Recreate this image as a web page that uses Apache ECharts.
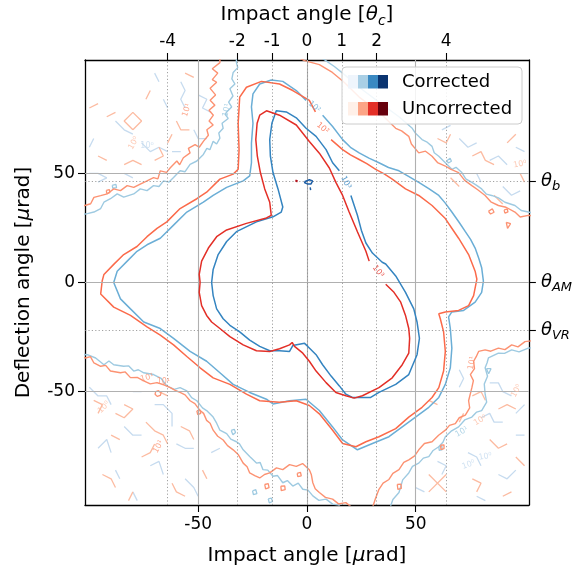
<!DOCTYPE html>
<html>
<head>
<meta charset="utf-8">
<script src="https://cdn.jsdelivr.net/npm/echarts@6/dist/echarts.min.js"></script>
<style>
  html, body { margin: 0; padding: 0; background: #fff; }
  #chart { width: 575px; height: 571px; }
</style>
</head>
<body>
<div id="chart"></div>
<script>
// ---- reference angles [µrad] ----
const thetaC = 16;      // critical channeling angle
const thetaB = 46.5;    // bending angle
const thetaAM = 0;      // amorphous orientation
const thetaVR = -22;    // volume reflection
const axisRange = [-102, 102];

const xTicks = [-50, 0, 50];
const yTicks = [-50, 0, 50];
const topTickMultiples = [-4, -2, -1, 0, 1, 2, 4];

// contour levels (counts)
const levels = [1, 10, 100, 1000];

// ---- contour paths, [impact, deflection] in µrad ----
// level 10^3
const corr3 = [
  [[20.2,39.9],[23.2,30.8],[25.0,24.0],[27.1,18.1],[30.1,13.5],[34.6,9.3],[36.2,8.5],[40.8,3.0],[45.3,-4.5],[49.1,-12.1],[50.6,-18.1],[51.7,-25.6],[50.6,-33.1],[46.8,-42.2],[40.8,-46.7],[33.1,-50.4],[29.3,-52.7],[20.9,-52.7],[17.9,-51.2],[14.9,-47.4],[11.1,-42.9],[7.2,-37.7],[4.2,-33.1],[0.4,-29.3],[-1.1,-27.9],[-6.5,-28.9],[-8.0,-31.6],[-12.6,-31.3],[-17.1,-31.3],[-21.7,-29.3],[-26.3,-26.4],[-30.9,-22.6],[-35.4,-19.6],[-38.5,-16.6],[-41.5,-12.1],[-43.1,-6.0],[-43.8,0],[-43.1,6.0],[-40.8,12.8],[-36.9,18.8],[-32.4,23.3],[-23.2,27.8],[-15.6,30.1],[-11.8,32.3],[-11.1,34.6],[-13.3,42.9],[-15.6,50.4],[-16.8,57.9],[-17.1,65.5],[-16.1,73.0],[-14.1,78.7],[-9.5,78.2],[-4.9,75.5],[-0.4,70.7],[4.2,67.0],[8.8,60.9],[11.8,54.9],[14.9,51.2]]
];
const unc3 = [
  [[36.2,-0.8],[40.0,-4.5],[43.1,-9.0],[45.3,-15.1],[46.8,-21.1],[47.2,-25.6],[46.8,-32.4],[43.8,-37.7],[39.2,-43.7],[33.1,-48.2],[25.5,-51.9],[21.7,-53.0],[17.9,-51.9],[13.3,-50.4],[8.8,-45.9],[4.2,-40.6],[1.1,-36.1],[-1.9,-32.4],[-5.7,-29.3],[-6.8,-27.5],[-8.0,-28.6],[-12.6,-30.4],[-17.1,-31.6],[-23.2,-31.3],[-29.3,-28.6],[-35.4,-24.8],[-40.0,-21.1],[-43.8,-18.1],[-46.1,-15.1],[-48.4,-10.6],[-49.5,-4.5],[-49.1,0.1],[-49.5,3.7],[-48.4,9.8],[-45.3,15.8],[-41.5,21.0],[-36.9,24.1],[-27.8,27.1],[-18.6,29.6],[-16.4,30.8],[-17.1,36.8],[-19.4,42.9],[-21.4,50.4],[-22.8,57.9],[-23.5,65.5],[-22.9,73.0],[-21.7,76.7],[-18.6,78.7],[-12.6,76.7],[-4.9,72.2],[1.1,64.6],[5.7,59.3],[10.3,52.5],[13.3,45.9],[16.4,39.9],[19.4,32.3],[23.2,23.3],[27.1,14.3],[28.6,9.8]]
];
// level 10^2
const corr2 = [
  [[7.2,76.7],[11.8,71.5],[16.4,65.5],[20.0,62.0],[24.0,59.4],[28.5,57.0],[33.1,54.9],[37.5,52.7],[42.3,51.2],[46.5,48.8],[51.4,45.9],[56.0,43.0],[60.6,39.9],[63.5,36.5],[66.6,32.3],[70.0,27.5],[72.8,23.3],[75.2,19.8],[77.3,15.8],[79.0,11.0],[80.3,6.8],[81.1,0.6],[80.3,-4.5],[77.3,-9.0],[72.0,-12.8],[66.6,-13.5],[65.1,-15.8],[65.9,-21.1],[66.6,-30.1],[65.9,-39.1],[63.6,-46.7],[60.6,-52.7],[56.0,-57.2],[49.9,-61.7],[43.8,-66.2],[37.7,-70.7],[30.1,-73.8],[23.2,-76.7],[16.4,-72.2],[11.8,-66.2],[5.7,-58.7],[-0.4,-53.5],[-8.0,-54.2],[-15.6,-55.7],[-18.6,-53.5],[-26.3,-50.4],[-33.9,-46.7],[-40.0,-41.4],[-46.1,-36.1],[-53.7,-31.6],[-61.3,-25.6],[-67.4,-21.1],[-75.0,-18.1],[-81.1,-12.1],[-85.7,-7.5],[-88.8,0],[-87.2,5.2],[-82.6,9.8],[-78.1,14.3],[-73.5,17.3],[-67.4,20.3],[-61.3,26.3],[-55.2,32.3],[-47.6,36.8],[-43.1,39.9],[-36.9,43.6],[-29.3,46.6],[-26.3,48.9],[-25.5,54.9],[-25.5,63.9],[-24.8,73.0],[-25.5,80.5],[-24.8,86.5],[-21.7,91.0],[-16.4,92.8],[-11.1,92.2],[-4.9,88.0],[-0.4,83.5]]
];
const unc2 = [
  [[11.1,65.5],[16.4,60.9],[20.0,58.5],[24.0,56.4],[27.5,54.5],[31.6,51.9],[35.5,49.8],[39.2,47.4],[45.3,42.9],[51.4,39.9],[57.5,35.3],[63.6,29.3],[66.5,25.0],[69.7,20.3],[74.3,12.8],[77.3,5.2],[78.1,1.5],[76.6,-6.0],[74.3,-10.6],[69.7,-12.8],[63.6,-13.5],[60.6,-14.3],[61.3,-16.6],[62.8,-22.6],[63.6,-31.6],[62.8,-40.6],[60.6,-48.2],[57.5,-52.7],[52.9,-57.2],[46.8,-61.7],[40.8,-67.0],[33.1,-70.7],[27.1,-73.0],[22.5,-75.3],[16.4,-73.8],[11.8,-67.7],[5.7,-60.2],[1.1,-56.4],[-4.9,-54.2],[-12.6,-54.9],[-21.7,-54.2],[-27.8,-51.2],[-35.4,-46.7],[-43.1,-43.7],[-49.1,-39.1],[-55.2,-33.9],[-61.3,-28.6],[-67.4,-24.1],[-73.5,-20.3],[-81.1,-15.1],[-88.8,-11.3],[-94.8,-5.3],[-94.1,0.7],[-93.3,3.7],[-88.8,8.3],[-84.2,12.8],[-78.1,16.5],[-73.5,21.0],[-68.9,24.8],[-64.4,27.8],[-58.3,33.9],[-50.6,38.4],[-46.1,41.4],[-40.0,47.4],[-33.9,49.7],[-31.6,51.9],[-31.2,60.9],[-31.6,73.0],[-30.9,85.0],[-27.8,89.5],[-20.9,92.2],[-12.6,91.0],[-6.5,88.0],[1.1,83.5],[3.9,78.2]]
];
// level 10^1 (closes outside the frame)
const corr1 = [
  [[3.4,105.3],[8.0,102.2],[12.6,99.0],[17.1,95.4],[24.0,89.5],[33.1,82.7],[42.3,76.0],[48.4,70.7],[49.9,68.4],[52.9,65.5],[55.0,64.5],[57.5,62.4],[58.5,59.5],[60.6,57.9],[63.6,54.9],[66.6,51.9],[68.5,52.8],[71.2,50.4],[73.0,47.5],[75.8,45.9],[78.0,44.5],[80.3,42.9],[82.5,40.5],[84.9,39.9],[88.0,38.8],[91.0,36.8],[95.6,35.3],[98.5,33.0],[101.7,32.3],[105.3,31.7],
   [105.3,-29.7],[101.7,-30.1],[97.5,-31.8],[94.1,-30.9],[90.8,-32.5],[88.0,-32.4],[83.4,-34.6],[82.8,-36.8],[81.9,-39.1],[83.0,-43.0],[81.5,-46.5],[81.9,-51.2],[82.6,-54.8],[80.3,-58.7],[78.0,-59.4],[75.8,-61.7],[72.5,-63.0],[69.7,-66.2],[66.5,-68.0],[63.6,-70.7],[62.5,-73.2],[60.6,-75.3],[58.0,-77.0],[56.0,-79.8],[53.5,-80.5],[51.4,-82.8],[48.5,-84.3],[46.8,-87.3],[44.0,-90.5],[42.3,-96.3],[39.5,-99.5],[37.7,-104.6],[37.7,-106],
   [17.1,-106],[17.1,-104.6],[14.5,-102.0],[11.8,-101.6],[8.8,-99.3],[5.5,-99.9],[2.7,-97.8],[0.5,-95.2],[-1.9,-94.8],[-4.0,-92.0],[-6.5,-93.3],[-9.0,-90.8],[-11.1,-91.8],[-13.5,-88.5],[-15.6,-88.8],[-18.0,-86.0],[-20.2,-85.8],[-21.5,-82.5],[-23.2,-82.8],[-26.3,-79.8],[-29.3,-76.7],[-31.0,-74.0],[-32.4,-73.0],[-35.0,-71.8],[-36.9,-69.3],[-40.0,-67.7],[-41.5,-64.5],[-43.1,-61.7],[-46.1,-58.7],[-48.0,-57.5],[-50.6,-54.2],[-53.0,-52.8],[-55.2,-49.7],[-58.3,-48.2],[-61.0,-49.0],[-64.4,-47.4],[-67.0,-44.0],[-70.5,-42.2],[-75.0,-41.4],[-77.5,-40.0],[-79.6,-40.6],[-82.0,-38.2],[-84.2,-38.4],[-88.8,-37.7],[-91.0,-36.0],[-93.3,-37.7],[-97.1,-34.6],[-100.9,-33.1],[-104.9,-32.8],
   [-104.9,30.8],[-100.9,31.6],[-97.9,32.3],[-94.8,33.9],[-93.3,36.8],[-90.3,38.4],[-87.2,40.6],[-84.2,39.1],[-79.6,40.6],[-76.6,42.9],[-73.5,42.1],[-70.5,44.4],[-68.0,44.0],[-65.9,46.6],[-63.5,46.0],[-61.3,48.1],[-58.3,51.2],[-56.0,50.8],[-53.7,54.2],[-50.6,55.7],[-47.6,58.7],[-46.0,61.5],[-44.6,60.9],[-43.1,64.7],[-41.5,63.5],[-40.0,66.2],[-40.5,68.5],[-38.5,70.7],[-39.0,73.0],[-36.2,75.2],[-37.5,77.0],[-36.9,78.2],[-34.6,80.5],[-36.0,82.7],[-34.0,85.5],[-35.4,88.8],[-33.1,91.0],[-34.5,93.3],[-33.9,96.3],[-31.8,98.5],[-32.4,100.8],[-32.4,105.3],[3.4,105.3]]
];
const unc1 = [
  [[-8.0,105.3],[-1.1,101.7],[5.7,99.9],[11.7,96.3],[17.1,91.8],[24.0,85.0],[33.1,78.2],[40.8,70.7],[43.5,69.5],[46.8,67.0],[48.0,63.5],[51.4,59.4],[54.5,60.2],[57.5,57.9],[60.0,55.0],[63.6,53.4],[66.0,52.0],[69.7,50.4],[72.5,46.8],[75.8,44.4],[78.5,42.5],[81.9,39.9],[84.5,37.0],[88.0,35.3],[91.5,34.5],[95.6,32.3],[98.0,30.0],[101.7,30.8],[105.3,30.4],
   [105.3,-26.5],[100.2,-27.1],[97.0,-29.5],[94.1,-28.6],[91.0,-30.8],[88.0,-30.1],[84.5,-31.5],[81.9,-30.9],[78.9,-31.6],[77.8,-34.0],[76.6,-36.1],[77.0,-39.5],[75.1,-42.2],[76.5,-45.0],[75.8,-48.2],[74.3,-54.2],[74.8,-57.5],[72.8,-60.8],[70.0,-62.0],[68.2,-64.7],[65.5,-65.5],[63.6,-67.7],[60.5,-70.0],[57.5,-73.0],[54.0,-73.8],[51.4,-76.7],[49.5,-79.5],[46.8,-81.3],[44.5,-82.5],[42.3,-85.8],[39.5,-87.5],[37.7,-90.3],[35.0,-92.0],[33.1,-94.8],[31.5,-99.0],[30.1,-103.3],[30.1,-105],
   [20.9,-105],[20.9,-103.3],[17.9,-100.9],[14.5,-101.5],[11.8,-99.3],[8.5,-98.5],[5.7,-96.3],[3.8,-94.5],[2.7,-91.8],[2.0,-88.0],[1.1,-85.8],[-2.0,-83.0],[-4.9,-84.3],[-8.0,-83.5],[-11.1,-85.8],[-14.0,-85.0],[-17.1,-87.3],[-19.5,-88.0],[-21.7,-89.6],[-24.0,-88.5],[-26.3,-87.3],[-27.5,-84.5],[-29.3,-82.8],[-31.5,-79.0],[-33.9,-76.7],[-36.5,-74.8],[-38.5,-72.2],[-41.0,-70.5],[-43.1,-67.7],[-44.5,-64.5],[-46.1,-63.2],[-47.5,-60.0],[-49.1,-58.7],[-51.5,-55.5],[-53.7,-54.2],[-56.0,-51.5],[-58.3,-50.4],[-60.5,-49.5],[-62.8,-48.2],[-65.5,-47.0],[-68.9,-45.9],[-72.0,-46.5],[-75.0,-45.1],[-78.0,-43.5],[-81.1,-43.6],[-83.5,-41.0],[-85.7,-41.4],[-90.3,-40.6],[-92.5,-38.0],[-94.8,-38.4],[-97.9,-36.9],[-99.5,-34.0],[-101.7,-34.6],[-104.9,-33.7],
   [-104.9,34.4],[-101.7,35.4],[-99.4,36.1],[-97.9,39.0],[-94.8,39.8],[-91.8,40.6],[-88.8,42.9],[-85.7,42.1],[-82.6,44.4],[-79.6,43.6],[-76.6,45.1],[-73.5,46.6],[-70.5,48.1],[-68.5,47.5],[-67.4,51.2],[-64.5,50.5],[-62.8,52.6],[-59.8,55.7],[-58.5,54.0],[-56.8,57.2],[-53.7,59.4],[-54.5,61.5],[-51.4,63.2],[-49.5,62.0],[-47.6,64.7],[-45.3,67.5],[-46.0,70.0],[-43.1,72.2],[-45.0,74.0],[-43.0,76.7],[-45.0,79.0],[-42.3,81.3],[-44.5,83.5],[-42.0,86.0],[-44.5,89.0],[-41.5,91.8],[-43.5,93.0],[-41.0,96.0],[-43.5,98.0],[-40.0,100.8],[-40.0,105.3],[-8.0,105.3]]
];
// small level 10^1 islands along the bands
const corr1Islands = [
  [[-34.8,-67.8],[-33.4,-67.3],[-32.8,-68.8],[-34.0,-69.8],[-34.8,-67.8]],
  [[-17.8,-99.2],[-16.4,-98.8],[-15.8,-100.4],[-17.3,-101.0],[-17.8,-99.2]],
  [[60.6,-75.2],[62.0,-75.0],[62.2,-76.6],[60.8,-77.0],[60.6,-75.2]],
  [[82.5,-39.5],[84.6,-39.5],[83.5,-41.8],[82.5,-39.5]],
  [[64.3,55.8],[65.8,57.0],[66.4,55.6],[65.0,54.8],[64.3,55.8]],
  [[-89.5,44.5],[-87.8,45.0],[-87.5,43.5],[-89.2,43.2],[-89.5,44.5]],
  [[-25.0,-95.5],[-23.5,-95.0],[-23.0,-96.8],[-24.6,-97.2],[-25.0,-95.5]]
];
const unc1Islands = [
  [[-69.5,-50.0],[-68.2,-49.6],[-67.0,-50.5],[-67.4,-51.8],[-68.8,-52.2],[-69.8,-51.2],[-69.5,-50.0]],
  [[-50.6,-58.8],[-49.2,-58.4],[-48.8,-60.0],[-50.2,-60.6],[-50.6,-58.8]],
  [[-19.4,-92.6],[-17.8,-92.2],[-17.4,-94.0],[-19.0,-94.6],[-19.4,-92.6]],
  [[-12.0,-93.4],[-10.2,-93.2],[-10.0,-95.0],[-11.8,-95.4],[-12.0,-93.4]],
  [[41.5,-92.6],[43.2,-92.4],[43.4,-94.4],[41.8,-94.8],[41.5,-92.6]],
  [[61.4,-74.6],[63.0,-74.4],[63.0,-76.2],[61.6,-76.6],[61.4,-74.6]],
  [[83.4,32.6],[85.2,33.8],[86.0,32.2],[84.4,31.4],[83.4,32.6]],
  [[90.6,33.2],[92.0,33.8],[92.4,32.4],[91.0,31.8],[90.6,33.2]],
  [[91.6,27.6],[93.6,27.0],[92.2,24.8],[91.6,27.6]],
  [[-92.2,42.2],[-90.8,42.6],[-90.6,41.2],[-92.0,40.8],[-92.2,42.2]],
  [[-4.5,-87.5],[-3.0,-87.0],[-2.6,-88.6],[-4.2,-89.0],[-4.5,-87.5]]
];
// level 10^0 fragments in the sparse corners
const corr0 = [
  [[-58,92],[-56,88],[-58,84],[-56,80]],
  [[-50,86],[-46,84],[-48,80],[-44,78]],
  [[-62,60],[-58,60]],
  [[-88,74],[-84,70],[-80,68]],
  [[-100,50],[-96,50],[-92,48],[-96,46]],
  [[-76,64],[-72,60],[-68,62],[-64,60]],
  [[-66,84],[-64,80]],
  [[-52,70],[-50,66],[-46,66]],
  [[-84,50],[-80,48]],
  [[-100,62],[-98,66]],
  [[-70,96],[-68,92]],
  [[-100,-48],[-96,-52],[-92,-52],[-90,-56]],
  [[-80,-50],[-76,-50]],
  [[-70,-56],[-66,-56],[-62,-60],[-62,-66]],
  [[-84,-66],[-80,-70],[-76,-70]],
  [[-60,-74],[-56,-76],[-52,-76]],
  [[-96,-76],[-92,-72],[-90,-78]],
  [[-72,-84],[-68,-82],[-66,-88]],
  [[-56,-90],[-52,-94],[-50,-98]],
  [[-80,-96],[-78,-100]],
  [[-44,-78],[-40,-76]],
  [[-88,-86],[-86,-90]],
  [[70,-40],[72,-44],[70,-48]],
  [[84,-46],[88,-46],[90,-50],[94,-52]],
  [[80,-62],[84,-60],[86,-64],[90,-64]],
  [[96,-70],[100,-70]],
  [[60,-82],[64,-84],[62,-88]],
  [[74,-78],[78,-80],[80,-84]],
  [[88,-88],[92,-90],[96,-86]],
  [[50,-94],[54,-96]],
  [[78,-98],[82,-100]],
  [[100,-56],[96,-60]],
  [[70,66],[74,62],[78,64]],
  [[84,56],[88,58],[92,54]],
  [[96,62],[100,60]],
  [[62,70],[66,72]],
  [[90,44],[94,40],[98,42]],
  [[78,50],[80,46]]
];
const unc0 = [
  [[-80,70],[-76,74],[-80,78],[-84,74],[-80,70]],
  [[-92,76],[-88,78]],
  [[-70,56],[-66,58],[-68,62]],
  [[-60,74],[-58,70],[-54,70]],
  [[-74,84],[-72,88]],
  [[-96,58],[-92,56]],
  [[-84,54],[-80,56],[-76,54]],
  [[-56,96],[-52,94]],
  [[-100,80],[-96,82]],
  [[-64,64],[-62,68]],
  [[-98,-54],[-94,-56],[-96,-60]],
  [[-88,-60],[-84,-62],[-80,-58],[-84,-56]],
  [[-74,-64],[-70,-68],[-66,-70],[-64,-74]],
  [[-68,-50],[-64,-52]],
  [[-90,-70],[-86,-72]],
  [[-58,-66],[-54,-68],[-52,-72]],
  [[-76,-80],[-72,-78],[-70,-74]],
  [[-94,-88],[-90,-90],[-88,-94]],
  [[-62,-92],[-60,-96],[-56,-98]],
  [[-48,-86],[-46,-90]],
  [[-82,-100],[-80,-96]],
  [[56,-54],[60,-56]],
  [[76,-52],[80,-50],[82,-54]],
  [[88,-58],[92,-56],[96,-58]],
  [[56,-88],[64,-96]],
  [[64,-88],[56,-96]],
  [[84,-72],[88,-76],[92,-74]],
  [[96,-80],[100,-84]],
  [[76,-90],[80,-92],[78,-96]],
  [[90,-98],[94,-96]],
  [[70,-64],[72,-60]],
  [[60,66],[64,64],[66,68]],
  [[76,58],[80,60],[82,56],[86,54]],
  [[92,64],[96,68]],
  [[66,48],[70,44]],
  [[98,50],[100,46]],
  [[86,40],[90,36]]
];
// isolated high-count spots near the bending angle
const corrSpot = [
  [[-1.1,46.2],[-0.3,47.0],[1.1,47.1],[2.6,46.6],[2.9,45.8],[1.9,45.2],[0.2,45.2],[-1.0,45.7],[-1.1,46.2]],
  [[1.5,43.6],[1.7,42.4]]
];
const uncSpot = [
  [[-5.3,46.8],[-4.5,47.0],[-4.3,46.3],[-5.1,46.2],[-5.3,46.8]]
];

// inline contour labels: set, level index, position [µrad], rotation [deg]
const contourLabels = [
  { set: 'corr', lvl: 2, at: [3.4, 80.5], rot: -42 },
  { set: 'unc',  lvl: 2, at: [7.2, 70.7], rot: -40 },
  { set: 'corr', lvl: 3, at: [17.9, 45.9], rot: -62 },
  { set: 'unc',  lvl: 3, at: [32.7, 5.1], rot: -52 },
  { set: 'unc',  lvl: 1, at: [-55.2, 79.0], rot: 72 },
  { set: 'corr', lvl: 1, at: [-36.9, 79.0], rot: 78 },
  { set: 'unc',  lvl: 0, at: [-79.6, 63.9], rot: 60 },
  { set: 'corr', lvl: 0, at: [-73.5, 62.4], rot: 0 },
  { set: 'unc',  lvl: 1, at: [-73.5, -43.7], rot: 15 },
  { set: 'unc',  lvl: 1, at: [-66.0, -45.5], rot: 0 },
  { set: 'unc',  lvl: 0, at: [-93.3, -57.2], rot: 45 },
  { set: 'unc',  lvl: 1, at: [-68.2, -75.3], rot: 60 },
  { set: 'unc',  lvl: 1, at: [75.8, -36.9], rot: 80 },
  { set: 'unc',  lvl: 0, at: [96.3, -49.7], rot: 60 },
  { set: 'unc',  lvl: 0, at: [79.6, -63.2], rot: 30 },
  { set: 'corr', lvl: 1, at: [71.2, -68.5], rot: 30 },
  { set: 'corr', lvl: 0, at: [81.9, -79.8], rot: 10 },
  { set: 'corr', lvl: 0, at: [74.3, -83.5], rot: 20 },
  { set: 'unc',  lvl: 0, at: [97.9, 54.2], rot: 10 }
];

// ---- styles ----
const FONT = 'DejaVu Sans';
const blues = ['#c6dbef', '#9ecae1', '#6baed6', '#3484c0'];
const reds  = ['#fcbba1', '#fc9272', '#fb6a4a', '#e32f27'];
const legendBlues = ['#eff5fc', '#a9cfe5', '#3a89c2', '#0a3470'];
const legendReds  = ['#fff0e8', '#fca486', '#e32f27', '#67000d'];
const supDigits = ['⁰', '¹', '²', '³', '⁴'];

const series = [];

// grid lines: solid at the µrad ticks, dotted at the angle markers
series.push({
  type: 'line', data: [], silent: true, z: 1, animation: false,
  markLine: {
    silent: true, symbol: ['none', 'none'], label: { show: false }, animation: false,
    lineStyle: { color: '#b0b0b0', width: 1.1, type: 'solid' },
    emphasis: { disabled: true },
    data: xTicks.map(v => ({ xAxis: v })).concat(yTicks.map(v => ({ yAxis: v })))
  }
});
series.push({
  type: 'line', data: [], silent: true, z: 1, animation: false,
  markLine: {
    silent: true, symbol: ['none', 'none'], label: { show: false }, animation: false,
    lineStyle: { color: '#8a8a8a', width: 0.8, type: [1.2, 2.2] },
    emphasis: { disabled: true },
    data: topTickMultiples.map(m => ({ xAxis: m * thetaC }))
      .concat([thetaB, thetaVR].map(v => ({ yAxis: v })))
  }
});

function addPaths(paths, color, width, z) {
  paths.forEach(p => series.push({
    type: 'line', data: p, symbol: 'none', showSymbol: false, silent: true,
    animation: false, clip: true, z: z,
    lineStyle: { color: color, width: width }
  }));
}
addPaths(corr0, blues[0], 1.3, 2);
addPaths(unc0, reds[0], 1.3, 2);
addPaths(corr1, blues[1], 1.4, 3);
addPaths(corr1Islands, blues[1], 1.3, 3);
addPaths(unc1, reds[1], 1.4, 3);
addPaths(unc1Islands, reds[1], 1.3, 3);
addPaths(corr2, blues[2], 1.5, 4);
addPaths(unc2, reds[2], 1.5, 4);
addPaths(corr3, blues[3], 1.5, 5);
addPaths(unc3, reds[3], 1.5, 5);
addPaths(corrSpot, '#1f5fa6', 1.5, 6);
addPaths(uncSpot, '#b3131b', 2, 6);

// contour level labels
series.push({
  type: 'scatter', symbolSize: 0, silent: true, animation: false, z: 6,
  data: contourLabels.map(l => {
    const col = (l.set === 'corr' ? blues : reds)[l.lvl];
    const exp = Math.round(Math.log10(levels[l.lvl]));
    return {
      value: l.at,
      label: {
        show: true, position: 'inside', rotate: l.rot,
        formatter: '10' + supDigits[exp],
        color: col, fontSize: 8, fontFamily: FONT
      }
    };
  })
});

const tickText = { fontSize: 17, color: '#000', fontFamily: FONT };
const nameRich = {
  n: { fontSize: 20, color: '#000', fontFamily: FONT, lineHeight: 26 },
  m: { fontSize: 20, color: '#000', fontFamily: FONT, fontStyle: 'italic', lineHeight: 26 },
  s: { fontSize: 14, color: '#000', fontFamily: FONT, fontStyle: 'italic', lineHeight: 14, verticalAlign: 'bottom' }
};
const spine = { show: true, onZero: false, lineStyle: { color: '#000', width: 1.3 } };
const tick = (vals) => ({ show: true, inside: false, length: 7, customValues: vals, lineStyle: { color: '#000', width: 1.1 } });

const rightVals = [thetaVR, thetaAM, thetaB];
const rightNames = ['VR', 'AM', 'b'];
const topVals = topTickMultiples.map(m => m * thetaC);

const option = {
  animation: false,
  backgroundColor: '#fff',
  grid: { left: 85, right: 45, top: 58, bottom: 62, containLabel: false },
  xAxis: [
    {
      type: 'value', position: 'bottom', min: axisRange[0], max: axisRange[1],
      axisLine: spine, axisTick: tick(xTicks), splitLine: { show: false },
      axisLabel: Object.assign({ customValues: xTicks, margin: 11 }, tickText),
      name: '{n|Impact angle [}{m|μ}{n|rad]}', nameLocation: 'middle', nameGap: 38,
      nameTextStyle: { rich: nameRich }
    },
    {
      type: 'value', position: 'top', min: axisRange[0], max: axisRange[1],
      axisLine: spine, axisTick: tick(topVals), splitLine: { show: false },
      axisLabel: Object.assign({
        customValues: topVals, margin: 10,
        formatter: v => String(Math.round(v / thetaC))
      }, tickText),
      name: '{n|Impact angle [}{m|θ}{s|c}{n|]}', nameLocation: 'middle', nameGap: 32,
      nameTextStyle: { rich: nameRich }
    }
  ],
  yAxis: [
    {
      type: 'value', position: 'left', min: axisRange[0], max: axisRange[1],
      axisLine: spine, axisTick: tick(yTicks), splitLine: { show: false },
      axisLabel: Object.assign({ customValues: yTicks, margin: 10 }, tickText),
      name: '{n|Deflection angle [}{m|μ}{n|rad]}', nameLocation: 'middle', nameGap: 48,
      nameTextStyle: { rich: nameRich }
    },
    {
      type: 'value', position: 'right', min: axisRange[0], max: axisRange[1],
      axisLine: spine, axisTick: tick(rightVals), splitLine: { show: false },
      axisLabel: {
        customValues: rightVals, margin: 12,
        formatter: v => {
          let best = 0;
          rightVals.forEach((r, i) => { if (Math.abs(r - v) < Math.abs(rightVals[best] - v)) best = i; });
          return '{t|θ}{s|' + rightNames[best] + '}';
        },
        rich: {
          t: { fontSize: 18, color: '#000', fontFamily: FONT, fontStyle: 'italic', lineHeight: 24 },
          s: { fontSize: 13, color: '#000', fontFamily: FONT, fontStyle: 'italic', lineHeight: 13, verticalAlign: 'bottom' }
        }
      }
    }
  ],
  graphic: [],
  series: series
};

// legend box with four-level colour swatches
const legendX = 342, legendY = 67;
option.graphic.push({
  type: 'rect', z: 100, silent: true,
  shape: { x: legendX, y: legendY, width: 180, height: 57, r: 4 },
  style: { fill: 'rgba(255,255,255,0.85)', stroke: '#cccccc', lineWidth: 1 }
});
[[legendBlues, 'Corrected', 8], [legendReds, 'Uncorrected', 35]].forEach(([cols, text, dy]) => {
  cols.forEach((c, i) => option.graphic.push({
    type: 'rect', z: 101, silent: true,
    shape: { x: legendX + 6 + i * 10, y: legendY + dy, width: 10, height: 13.5 },
    style: { fill: c }
  }));
  option.graphic.push({
    type: 'text', z: 101, silent: true,
    style: { x: legendX + 60, y: legendY + dy + 7, text: text, fill: '#000',
             font: '18px "DejaVu Sans"', textVerticalAlign: 'middle', verticalAlign: 'middle' }
  });
});

const chart = echarts.init(document.getElementById('chart'), null, { renderer: 'canvas' });
chart.setOption(option);
</script>
</body>
</html>
